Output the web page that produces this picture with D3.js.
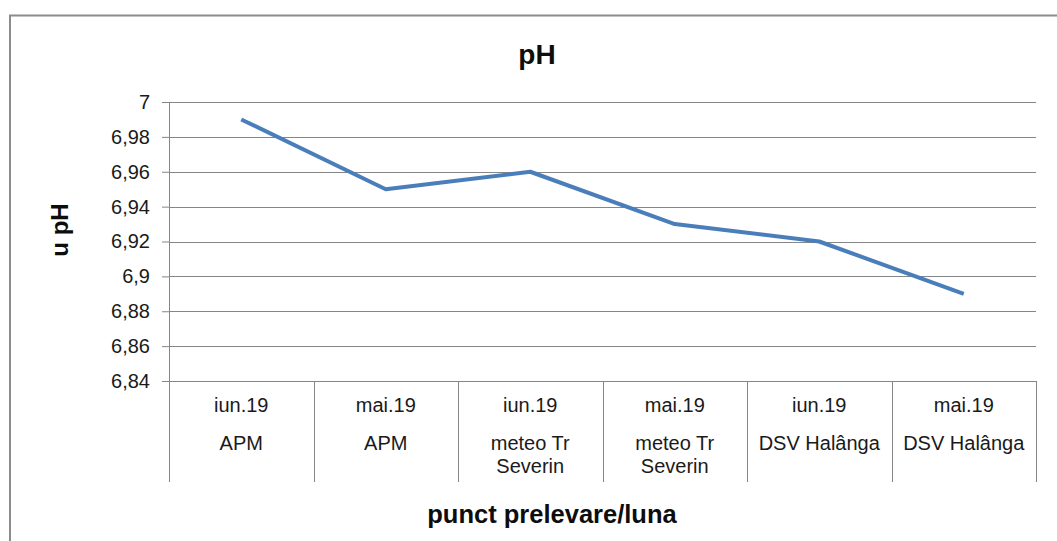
<!DOCTYPE html>
<html><head><meta charset="utf-8">
<script src="https://cdn.jsdelivr.net/npm/d3@7/dist/d3.min.js"></script>
<style>body{margin:0;background:#fff}svg{display:block;font-family:"Liberation Sans",Arial,sans-serif}</style>
</head><body><svg id="c" width="1057" height="541"></svg>
<script>
const months = ["iun.19","mai.19","iun.19","mai.19","iun.19","mai.19"];
const places = [["APM"],["APM"],["meteo Tr","Severin"],["meteo Tr","Severin"],["DSV Halânga"],["DSV Halânga"]];
const values = [6.99, 6.95, 6.96, 6.93, 6.92, 6.89];
const yTicks = [6.84,6.86,6.88,6.9,6.92,6.94,6.96,6.98,7];

const svg = d3.select("#c");
const L=169, R=1036, T=102, B=381;
svg.append("path").attr("d","M10,541 L10,15.5 L1057,15.5").attr("fill","none").attr("stroke","#8c8c8c").attr("stroke-width",2);

const x = d3.scaleBand().domain(d3.range(values.length)).range([L,R]);
const y = d3.scaleLinear().domain([6.84,7]).range([B,T]);
const fmt = d => String(d).replace(".",",");

const ya = svg.append("g").attr("transform",`translate(${L},0)`)
  .call(d3.axisLeft(y).tickValues(yTicks).tickSize(7).tickFormat(fmt));
ya.select(".domain").remove();
ya.selectAll(".tick line").attr("stroke","#868686");
ya.selectAll(".tick text").attr("font-size",20).attr("fill","#1a1a1a").attr("x",-19)
  .attr("font-family","Liberation Sans, Arial, sans-serif");
svg.append("g").selectAll("line").data(yTicks).join("line")
  .attr("x1",L).attr("x2",R).attr("y1",d=>Math.round(y(d))+0.5).attr("y2",d=>Math.round(y(d))+0.5)
  .attr("stroke","#868686").attr("stroke-width",1);
svg.append("line").attr("x1",L+0.5).attr("x2",L+0.5).attr("y1",T).attr("y2",B).attr("stroke","#868686");

const bounds = d3.range(values.length+1).map(i=> i<values.length ? x(i) : R);
svg.append("g").selectAll("line").data(bounds).join("line")
  .attr("x1",d=>Math.round(d)+0.5).attr("x2",d=>Math.round(d)+0.5).attr("y1",B).attr("y2",482)
  .attr("stroke","#868686");

const cg = svg.append("g").attr("font-size",20).attr("fill","#1a1a1a").attr("text-anchor","middle");
values.forEach((v,i)=>{
  const cx = x(i)+x.bandwidth()/2;
  cg.append("text").attr("x",cx).attr("y",412).text(months[i]);
  places[i].forEach((p,j)=> cg.append("text").attr("x",cx).attr("y",450+j*23).text(p));
});

svg.append("path").datum(values)
  .attr("d", d3.line().x((d,i)=>x(i)+x.bandwidth()/2).y(d=>y(d)))
  .attr("fill","none").attr("stroke","#4a7ebb").attr("stroke-width",4).attr("stroke-linejoin","round");

svg.append("text").attr("x",537).attr("y",64).attr("text-anchor","middle").attr("font-size",28).attr("font-weight","bold").attr("fill","#0d0d0d").text("pH");
svg.append("text").attr("x",552).attr("y",523).attr("text-anchor","middle").attr("font-size",25.5).attr("font-weight","bold").attr("fill","#0d0d0d").text("punct prelevare/luna");
svg.append("text").attr("transform","translate(68,230) rotate(-90)").attr("text-anchor","middle").attr("font-size",24).attr("font-weight","bold").attr("fill","#0d0d0d").text("u pH");
</script></body></html>
